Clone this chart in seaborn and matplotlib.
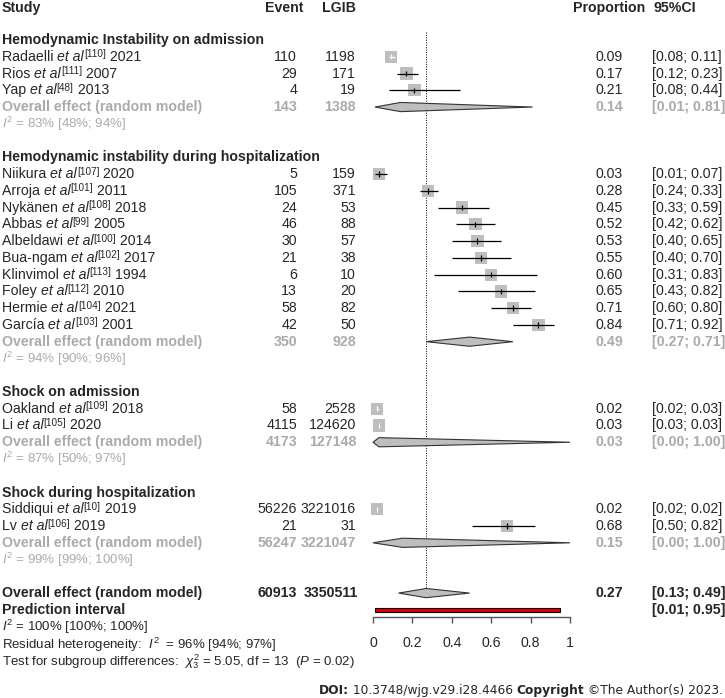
import numpy as np
import pandas as pd
import seaborn as sns
import matplotlib.pyplot as plt

# Study-level data
group_names = ["Hemodynamic Instability on admission",
               "Hemodynamic instability during hospitalization",
               "Shock on admission",
               "Shock during hospitalization"]
study_group = [0, 0, 0, 1, 1, 1, 1, 1, 1, 1, 1, 1, 1, 2, 2, 3, 3]
authors = ["Radaelli", "Rios", "Yap",
           "Niikura", "Arroja", "Nykänen", "Abbas", "Albeldawi", "Bua-ngam",
           "Klinvimol", "Foley", "Hermie", "García",
           "Oakland", "Li",
           "Siddiqui", "Lv"]
refs = [110, 111, 48, 107, 101, 108, 99, 100, 102, 113, 112, 104, 103, 109, 105, 10, 106]
years = [2021, 2007, 2013, 2020, 2011, 2018, 2005, 2014, 2017, 1994, 2010, 2021, 2001,
         2018, 2020, 2019, 2019]
events = [110, 29, 4, 5, 105, 24, 46, 30, 21, 6, 13, 58, 42, 58, 4115, 56226, 21]
totals = [1198, 171, 19, 159, 371, 53, 88, 57, 38, 10, 20, 82, 50, 2528, 124620, 3221016, 31]
props = [0.09, 0.17, 0.21, 0.03, 0.28, 0.45, 0.52, 0.53, 0.55, 0.60, 0.65, 0.71, 0.84,
         0.02, 0.03, 0.02, 0.68]
ci_lo = [0.08, 0.12, 0.08, 0.01, 0.24, 0.33, 0.42, 0.40, 0.40, 0.31, 0.43, 0.60, 0.71,
         0.02, 0.03, 0.02, 0.50]
ci_hi = [0.11, 0.23, 0.44, 0.07, 0.33, 0.59, 0.62, 0.65, 0.70, 0.83, 0.82, 0.80, 0.92,
         0.03, 0.03, 0.02, 0.82]

# Subgroup pooled estimates
g_events = [143, 350, 4173, 56247]
g_totals = [1388, 928, 127148, 3221047]
g_props = [0.14, 0.49, 0.03, 0.15]
g_lo = [0.01, 0.27, 0.00, 0.00]
g_hi = [0.81, 0.71, 1.00, 1.00]
g_i2 = ["83% [48%; 94%]", "94% [90%; 96%]", "87% [50%; 97%]", "99% [99%; 100%]"]

# Overall
tot_events, tot_total = 60913, 3350511
tot_prop, tot_lo, tot_hi = 0.27, 0.13, 0.49
pred_lo, pred_hi = 0.01, 0.95
tot_i2 = "100% [100%; 100%]"
resid_i2 = "96% [94%; 97%]"

sns.set_style("white")
plt.rcParams['font.family'] = ['Liberation Sans', 'DejaVu Sans']
plt.rcParams['mathtext.fontset'] = 'custom'
plt.rcParams['mathtext.rm'] = 'Liberation Sans'
plt.rcParams['mathtext.it'] = 'Liberation Sans:italic'
plt.rcParams['mathtext.bf'] = 'Liberation Sans:bold'

W, H = 725, 698
X0, XS = 373, 197       # pixel of proportion 0 and pixels per unit
Y0, RS = 40, 16.76      # pixel of row 2 and pixels per row


def px(x):
    return (x - X0) / XS


def prow(y):
    return 2 + (y - Y0) / RS


fig = plt.figure(figsize=(W / 100, H / 100), dpi=100)
ax = fig.add_axes([0, 0, 1, 1])
ax.set_xlim(px(0), px(W))
ax.set_ylim(prow(H), prow(0))
ax.axis('off')

FS = 10.2
FS_S = 9.5
GREY = '#ABABAB'
SQ = '#BEBEBE'

# headers
hr = 0.1
ax.text(px(2), hr, "Study", fontsize=FS, fontweight='bold', ha='left', va='center')
ax.text(px(303), hr, "Event", fontsize=FS, fontweight='bold', ha='right', va='center')
ax.text(px(356), hr, "LGIB", fontsize=FS, fontweight='bold', ha='right', va='center')
ax.text(px(609), hr, "Proportion", fontsize=FS, fontweight='bold', ha='center', va='center')
ax.text(px(653), hr, "95%CI", fontsize=FS, fontweight='bold', ha='left', va='center')

# assign rows
study_rows = []
g_rows = []
r = 2
for g in range(len(group_names)):
    idx = [i for i, s in enumerate(study_group) if s == g]
    ax.text(px(2), r, group_names[g], fontsize=FS, fontweight='bold', ha='left', va='center')
    for k, i in enumerate(idx):
        study_rows.append(r + 1 + k)
    g_rows.append(r + len(idx) + 1)
    r = r + len(idx) + 4
tot_row = r
pred_row = r + 1

df = pd.DataFrame({'author': authors, 'ref': refs, 'year': years, 'event': events,
                   'total': totals, 'prop': props, 'lo': ci_lo, 'hi': ci_hi,
                   'row': study_rows})

# reference line at overall estimate
ax.vlines(tot_prop, prow(32), tot_row, colors='black', linestyles=(0, (1, 1.5)), lw=0.7, zorder=1)

# squares
sns.scatterplot(data=df, x='prop', y='row', marker='s', s=78, color=SQ,
                edgecolor='none', ax=ax, zorder=2, legend=False)

# CI lines (white where the interval sits inside the square)
half = 6 / XS
inside = (df['prop'] - df['lo'] < half) & (df['hi'] - df['prop'] < half)
line_col = np.where(inside, 'white', 'black')
ax.hlines(df['row'], df['lo'], df['hi'], colors=line_col, lw=0.9, zorder=3)
ax.vlines(df['prop'], df['row'] - 0.16, df['row'] + 0.16, colors=line_col, lw=0.9, zorder=3)


def study_label(author, ref, year, row):
    a = ax.text(px(2), row, author + " ", fontsize=FS, ha='left', va='center')
    b = ax.annotate("et al", xy=(1, 0), xycoords=a, fontsize=FS, style='italic',
                    ha='left', va='bottom')
    c = ax.annotate(f"[{ref}]", xy=(1, 0.32), xycoords=b, fontsize=7.2,
                    ha='left', va='bottom')
    ax.annotate(f" {year}", xy=(1, 0), xycoords=(c, b), fontsize=FS,
                ha='left', va='bottom')


for _, s in df.iterrows():
    study_label(s['author'], s['ref'], s['year'], s['row'])
    ax.text(px(297), s['row'], f"{s['event']}", fontsize=FS, ha='right', va='center')
    ax.text(px(356), s['row'], f"{s['total']}", fontsize=FS, ha='right', va='center')
    ax.text(px(609), s['row'], f"{s['prop']:.2f}", fontsize=FS, ha='center', va='center')
    ax.text(px(652), s['row'], f"[{s['lo']:.2f}; {s['hi']:.2f}]", fontsize=FS, ha='left', va='center')

DH = 4.6 / RS


def diamond(p, lo, hi, row):
    ax.fill([lo, p, hi, p], [row, row - DH, row, row + DH], facecolor=SQ,
            edgecolor='#333333', lw=0.8, zorder=4)


for g in range(len(group_names)):
    rr = g_rows[g]
    diamond(g_props[g], g_lo[g], g_hi[g], rr)
    ax.text(px(2), rr, "Overall effect (random model)", fontsize=FS, fontweight='bold',
            color=GREY, ha='left', va='center')
    ax.text(px(297), rr, f"{g_events[g]}", fontsize=FS, fontweight='bold', color=GREY,
            ha='right', va='center')
    ax.text(px(356), rr, f"{g_totals[g]}", fontsize=FS, fontweight='bold', color=GREY,
            ha='right', va='center')
    ax.text(px(609), rr, f"{g_props[g]:.2f}", fontsize=FS, fontweight='bold', color=GREY,
            ha='center', va='center')
    ax.text(px(652), rr, f"[{g_lo[g]:.2f}; {g_hi[g]:.2f}]", fontsize=FS, fontweight='bold',
            color=GREY, ha='left', va='center')
    ax.text(px(2), rr + 1, r"$\mathit{I}^{\mathrm{2}}$ = " + g_i2[g], fontsize=FS_S,
            color=GREY, ha='left', va='center')

# overall effect
diamond(tot_prop, tot_lo, tot_hi, tot_row)
ax.text(px(2), tot_row, "Overall effect (random model)", fontsize=FS, fontweight='bold',
        ha='left', va='center')
ax.text(px(297), tot_row, f"{tot_events}", fontsize=FS, fontweight='bold', ha='right', va='center')
ax.text(px(358), tot_row, f"{tot_total}", fontsize=FS, fontweight='bold', ha='right', va='center')
ax.text(px(609), tot_row, f"{tot_prop:.2f}", fontsize=FS, fontweight='bold', ha='center', va='center')
ax.text(px(652), tot_row, f"[{tot_lo:.2f}; {tot_hi:.2f}]", fontsize=FS, fontweight='bold',
        ha='left', va='center')

# prediction interval
ax.barh(pred_row, pred_hi - pred_lo, left=pred_lo, height=3.6 / RS, color='#E00000',
        edgecolor='black', lw=0.8, zorder=4)
ax.text(px(2), pred_row, "Prediction interval", fontsize=FS, fontweight='bold', ha='left', va='center')
ax.text(px(652), pred_row, f"[{pred_lo:.2f}; {pred_hi:.2f}]", fontsize=FS, fontweight='bold',
        ha='left', va='center')

# heterogeneity lines
ax.text(px(2), prow(627), r"$\mathit{I}^{\mathrm{2}}$ = " + tot_i2, fontsize=FS_S, ha='left', va='center')
ax.text(px(2), prow(645), r"Residual heterogeneity:  $\mathit{I}^{\mathrm{2}}$  = " + resid_i2,
        fontsize=FS_S, ha='left', va='center')
ax.text(px(2), prow(662), r"Test for subgroup differences:  $\chi^{2}_{3}$ = 5.05, df = 13  ($\mathit{P}$ = 0.02)",
        fontsize=FS_S, ha='left', va='center')

# x axis
ax2 = fig.add_axes([X0 / W, 1 - 617 / H, XS / W, 1e-5])
ax2.set_xlim(0, 1)
ax2.set_xticks([0, 0.2, 0.4, 0.6, 0.8, 1])
ax2.set_xticklabels(["0", "0.2", "0.4", "0.6", "0.8", "1"])
ax2.set_yticks([])
for side in ['top', 'left', 'right']:
    ax2.spines[side].set_visible(False)
ax2.spines['bottom'].set_color('#555555')
ax2.spines['bottom'].set_linewidth(1)
ax2.tick_params(axis='x', direction='out', length=4.5, width=1, color='#555555',
                labelsize=FS, pad=9, bottom=True)
ax2.patch.set_alpha(0)

# footer
FF = 8.85
fy = prow(697)
t3 = ax.text(px(723), fy, " ©The Author(s) 2023.", fontsize=FF, family='DejaVu Sans',
             ha='right', va='bottom')
t2 = ax.annotate("Copyright", xy=(0, 0), xycoords=t3, fontsize=FF, family='DejaVu Sans',
                 fontweight='bold', ha='right', va='bottom')
t1 = ax.annotate(" 10.3748/wjg.v29.i28.4466 ", xy=(0, 0), xycoords=t2, fontsize=FF,
                 family='DejaVu Sans', ha='right', va='bottom')
ax.annotate("DOI:", xy=(0, 0), xycoords=t1, fontsize=FF, family='DejaVu Sans',
            fontweight='bold', ha='right', va='bottom')

fig.savefig("out.png", dpi=100)
